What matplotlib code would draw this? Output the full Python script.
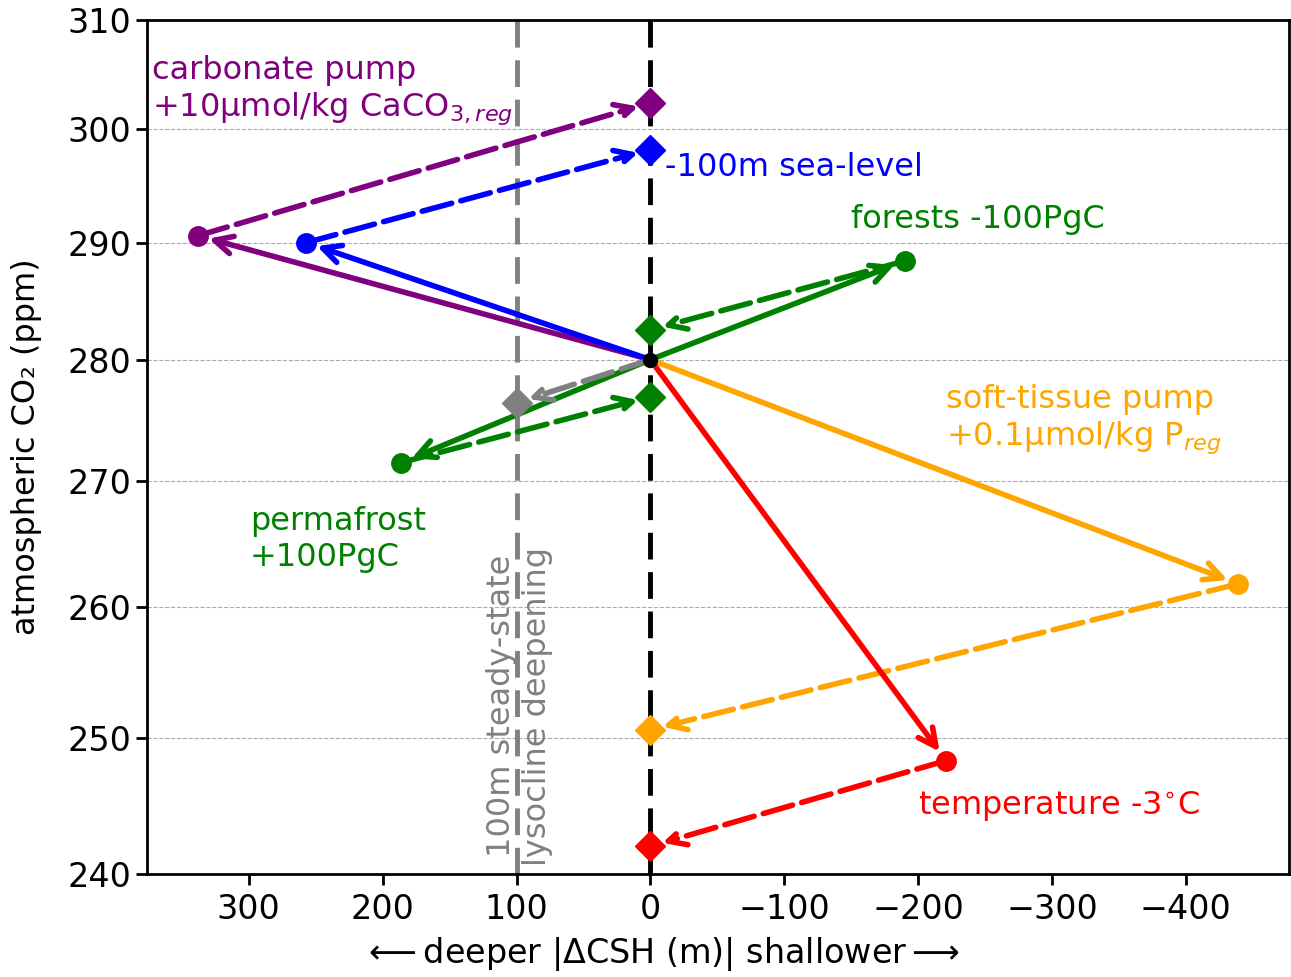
import matplotlib
matplotlib.use('Agg')
from matplotlib import pyplot as plt
import numpy as np
from matplotlib.ticker import FixedLocator, FixedFormatter, NullLocator

# baseline state
csh0 = 0.0
co2_0 = 280.0

# experiments: circle = transient (after change), diamond = after lysocline adjustment
names = ['carbonate', 'sealevel', 'forests', 'permafrost', 'softtissue', 'temperature']
colors = ['purple', 'blue', 'green', 'green', 'orange', 'red']
csh_mid = [338, 257, -190, 186, -439, -221]
co2_mid = [290.6, 290.0, 288.4, 271.5, 261.8, 248.3]
csh_end = [0, 0, 0, 0, 0, 0]
co2_end = [302.4, 298.2, 282.5, 276.9, 250.6, 242.0]

# steady-state lysocline deepening
lyso_csh = 100
lyso_co2 = 276.4

yticks = [240, 250, 260, 270, 280, 290, 300, 310]
xticks = [300, 200, 100, 0, -100, -200, -300, -400]

plt.rcParams['font.size'] = 23
fig = plt.figure(figsize=(12.91, 9.77), dpi=100)
ax = fig.add_axes([0.1139, 0.1054, 0.8845, 0.8741])

ax.set_yscale('log')
ax.set_ylim(240, 310)
ax.set_xlim(376, -477)
ax.yaxis.set_major_locator(FixedLocator(yticks))
ax.yaxis.set_major_formatter(FixedFormatter([str(t) for t in yticks]))
ax.yaxis.set_minor_locator(NullLocator())
ax.set_xticks(xticks)
ax.set_xticklabels(['%d' % t if t >= 0 else '\u2212%d' % -t for t in xticks])
ax.grid(axis='y', ls='--', color='#aaaaaa', lw=0.8)
ax.set_axisbelow(True)

for s in ax.spines.values():
    s.set_linewidth(2)
ax.tick_params(width=2, length=8, labelsize=24)
ax.tick_params(axis='x', pad=6)

ax.axvline(0, color='k', lw=3.5, dashes=(5.5, 2.6), zorder=1)
ax.axvline(lyso_csh, color='gray', lw=3.5, dashes=(5.5, 2.6), zorder=1)

lw = 4
ms = 14
dash = (0, (5.5, 1.7))
for c, xm, ym, xe, ye in zip(colors, csh_mid, co2_mid, csh_end, co2_end):
    ax.annotate('', xy=(xm, ym), xytext=(csh0, co2_0),
                arrowprops=dict(arrowstyle='->', color=c, lw=lw, shrinkA=0, shrinkB=8,
                                mutation_scale=32), zorder=3)
    ax.annotate('', xy=(xe, ye), xytext=(xm, ym),
                arrowprops=dict(arrowstyle='->', color=c, lw=lw, ls=dash, shrinkA=0, shrinkB=9,
                                mutation_scale=32), zorder=3)
    ax.plot(xm, ym, 'o', color=c, ms=ms, zorder=4)
    ax.plot(xe, ye, 'D', color=c, ms=15, zorder=4)

ax.annotate('', xy=(lyso_csh, lyso_co2), xytext=(csh0, co2_0),
            arrowprops=dict(arrowstyle='->', color='gray', lw=lw, ls=dash, shrinkA=0, shrinkB=9,
                            mutation_scale=32), zorder=3)
ax.plot(lyso_csh, lyso_co2, 'D', color='gray', ms=15, zorder=4)
ax.plot(csh0, co2_0, 'o', color='k', ms=10, zorder=5)

ax.text(372, 306.8, 'carbonate pump\n+10\u03bcmol/kg CaCO$_{3,reg}$', color='purple',
        ha='left', va='top')
ax.text(-11, 296.6, '-100m sea-level', color='blue', ha='left', va='center')
ax.text(-150, 292.0, 'forests -100PgC', color='green', ha='left', va='center')
ax.text(299, 268.0, 'permafrost\n+100PgC', color='green', ha='left', va='top')
ax.text(-221, 278.0, 'soft-tissue pump\n+0.1\u03bcmol/kg P$_{reg}$', color='orange',
        ha='left', va='top')
ax.text(-200, 244.9, 'temperature -3$^{\\circ}$C', color='red', ha='left', va='center')
ax.text(lyso_csh - 2.5, 240.6, '100m steady-state\nlysocline deepening', color='gray', rotation=90,
        ha='center', va='bottom', linespacing=1.2)

ax.set_ylabel('atmospheric CO\u2082 (ppm)', fontsize=23, labelpad=18)
ax.set_xlabel(r'$\longleftarrow$deeper $|\Delta$CSH (m)$|$ shallower$\longrightarrow$',
              fontsize=24, x=0.45, labelpad=6)

fig.savefig('out.png', dpi=100)
